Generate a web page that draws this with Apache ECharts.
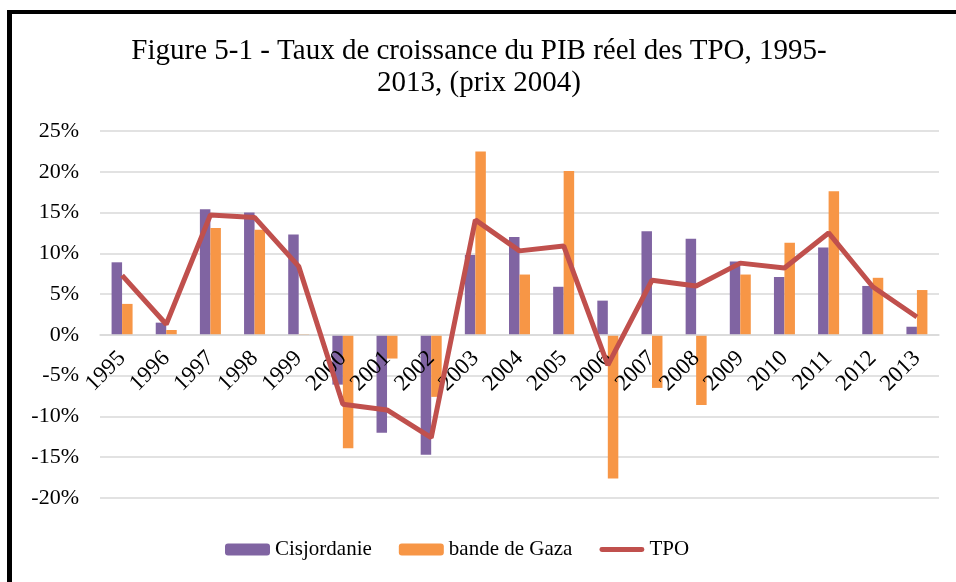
<!DOCTYPE html>
<html>
<head>
<meta charset="utf-8">
<script src="https://cdn.jsdelivr.net/npm/echarts@6/dist/echarts.min.js"></script>
<style>
html,body{margin:0;padding:0;background:#fff;overflow:hidden;}
#chart{position:absolute;left:0;top:0;width:956px;height:582px;}
#frame{position:absolute;left:7px;top:10px;width:1100px;height:1100px;border-left:5px solid #000;border-top:4px solid #000;pointer-events:none;}
</style>
</head>
<body>
<div id="chart"></div>
<div id="frame"></div>
<script>
const categories = ['1995','1996','1997','1998','1999','2000','2001','2002','2003','2004','2005','2006','2007','2008','2009','2010','2011','2012','2013'];
const cisjordanie = [8.9, 1.5, 15.4, 15.0, 12.3, -6.1, -12.0, -14.7, 9.8, 12.0, 5.9, 4.2, 12.7, 11.8, 9.0, 7.1, 10.7, 6.0, 1.0];
const gaza = [3.8, 0.6, 13.1, 12.9, 0.1, -13.9, -2.9, -7.6, 22.5, 7.4, 20.1, -17.6, -6.5, -8.6, 7.4, 11.3, 17.6, 7.0, 5.5];
const tpo = [7.3, 1.3, 14.7, 14.4, 8.4, -8.5, -9.2, -12.6, 14.1, 10.3, 10.9, -3.7, 6.7, 6.0, 8.8, 8.2, 12.5, 5.9, 2.2];
const seriesNames = ['Cisjordanie', 'bande de Gaza', 'TPO'];
const titleText = 'Figure 5-1 - Taux de croissance du PIB réel des TPO, 1995-\n2013, (prix 2004)';

const FONT = '"Liberation Serif", "Times New Roman", serif';
const Y_MIN = -20, Y_MAX = 25;
const GRID_TOP = 131, GRID_BOTTOM = 84, H = 582;
const plotH = H - GRID_TOP - GRID_BOTTOM;
const zeroOffset = -plotH * (0 - Y_MIN) / (Y_MAX - Y_MIN);

const chart = echarts.init(document.getElementById('chart'));
chart.setOption({
  backgroundColor: '#fff',
  animation: false,
  title: {
    text: titleText,
    left: 474,
    top: 30,
    textAlign: 'center',
    textStyle: {fontFamily: FONT, fontSize: 29, fontWeight: 'normal', color: '#000', lineHeight: 32}
  },
  legend: {
    data: [
      {name: seriesNames[0]},
      {name: seriesNames[1]},
      {name: seriesNames[2], icon: 'path://M2,0 L43,0 A2.5,2.5 0 0 1 43,5 L2,5 A2.5,2.5 0 0 1 2,0 Z', itemStyle: {color: '#C0504D'}}
    ],
    bottom: 17,
    left: 220,
    itemWidth: 45,
    itemHeight: 12,
    itemGap: 27,
    textStyle: {fontFamily: FONT, fontSize: 21, color: '#000'}
  },
  grid: {left: 100, right: 17, top: GRID_TOP, bottom: GRID_BOTTOM},
  xAxis: {
    type: 'category',
    data: categories,
    offset: zeroOffset,
    z: 3,
    axisLine: {onZero: false, lineStyle: {color: '#D9D9D9', width: 1.5}},
    axisTick: {show: false},
    axisLabel: {rotate: 45, margin: 20, fontFamily: FONT, fontSize: 23, color: '#000', interval: 0}
  },
  yAxis: {
    type: 'value',
    min: Y_MIN, max: Y_MAX, interval: 5,
    axisLine: {show: false},
    axisTick: {show: false},
    splitLine: {lineStyle: {color: '#D9D9D9', width: 1.5}},
    axisLabel: {formatter: '{value}%', margin: 21, fontFamily: FONT, fontSize: 22, color: '#000'}
  },
  series: [
    {name: seriesNames[0], type: 'bar', data: cisjordanie, barWidth: 10.5, barGap: '0%', itemStyle: {color: '#8064A2'}},
    {name: seriesNames[1], type: 'bar', data: gaza, barWidth: 10.5, barGap: '0%', itemStyle: {color: '#F79646'}},
    {name: seriesNames[2], type: 'line', data: tpo, symbol: 'none', lineStyle: {color: '#C0504D', width: 5}, itemStyle: {color: '#C0504D'}, z: 5}
  ]
});
</script>
</body>
</html>
